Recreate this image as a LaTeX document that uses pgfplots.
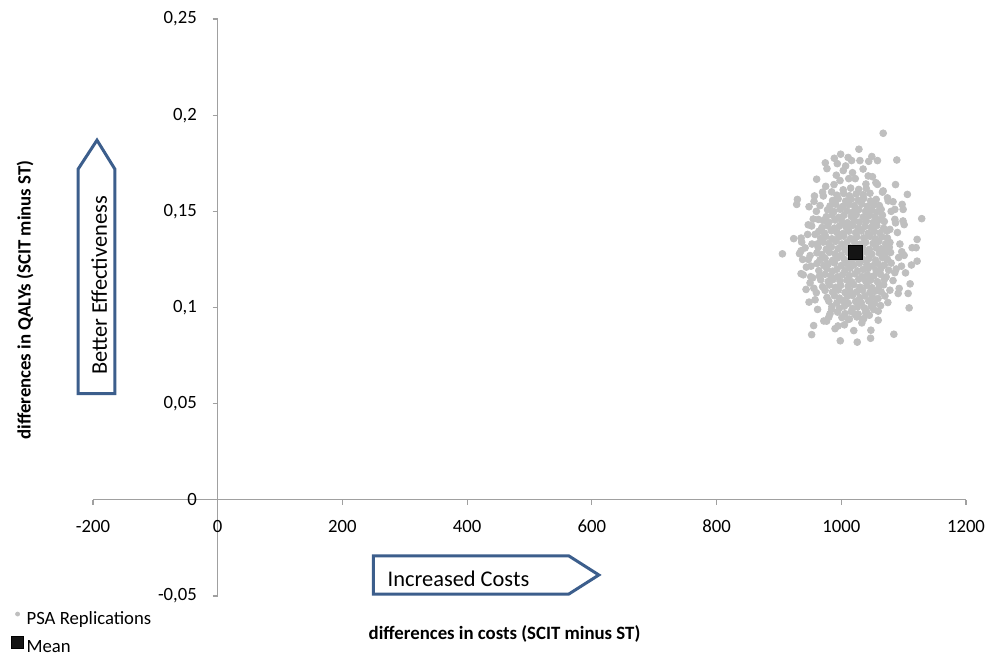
\documentclass[border=0pt]{standalone}
\usepackage{pgfplots}
\pgfplotsset{compat=1.18}
\usepackage{fontspec}
\setmainfont{Carlito}
\definecolor{axisgray}{HTML}{A0A0A0}
\definecolor{ptgray}{HTML}{BFBFBF}
\definecolor{arrowblue}{HTML}{3C5E8C}
\definecolor{meanblack}{HTML}{141414}
\begin{document}
\begin{tikzpicture}
\useasboundingbox (0,0) rectangle (499pt,327.5pt);
\begin{axis}[
  at={(46.5pt,29.5pt)}, anchor=south west,
  scale only axis, width=436.5pt, height=288.5pt,
  xmin=-200, xmax=1200, ymin=-0.05, ymax=0.25,
  axis x line=middle, axis y line=middle,
  axis line style={-, draw=axisgray, line width=0.6pt},
  xtick={-200,0,200,400,600,800,1000,1200},
  xticklabels={-200,0,200,400,600,800,1000,1200},
  ytick={-0.05,0,0.05,0.1,0.15,0.2,0.25},
  yticklabels={{-0,05},{0},{0,05},{0,1},{0,15},{0,2},{0,25}},
  tick align=outside, major tick length=2.5pt,
  tick style={draw=axisgray, line width=0.6pt},
  hide obscured x ticks=false, hide obscured y ticks=false,
  ticklabel style={font=\fontsize{9.35}{11}\selectfont, text=black},
  xticklabel style={yshift=-4pt},
  yticklabel style={xshift=-4.4pt},
  xlabel={differences in costs (SCIT minus ST)},
  ylabel={differences in QALYs (SCIT minus ST)},
  xlabel style={at={(axis description cs:0.4714,-0.0659)}, anchor=center, font=\fontsize{9.4}{11}\selectfont\bfseries},
  ylabel style={at={(axis description cs:-0.0779,0.513)}, anchor=center, rotate=90, font=\fontsize{9.4}{11}\selectfont\bfseries},
  clip=false,
  legend style={draw=none, fill=none, at={(axis description cs:-0.0937,-0.0150)}, anchor=north west,
    inner sep=0pt, row sep=0pt, column sep=0.5pt, font=\fontsize{9.35}{11}\selectfont,
    nodes={text height=7pt, text depth=2pt, inner sep=2.5pt, inner xsep=1pt}},
  legend cell align=left,
  legend image code/.code={\draw[#1, yshift=2.5pt] plot coordinates {(0pt,0pt)};},
]
\addplot[ptgray, only marks, mark=*, mark size=1.7pt, mark options={fill=ptgray, draw=none},
  legend image post style={mark size=1pt}]
coordinates {
(1067.2,0.1906) (1028.3,0.1823) (999,0.1797) (988.8,0.1776) (974.4,0.1752) (977,0.1722)
(993.6,0.1748) (1007,0.1736) (1016.5,0.1764) (1029.9,0.1764) (1049,0.1785) (1058,0.1764)
(1089,0.1767) (960.5,0.1667) (992,0.1688) (1003.2,0.1712) (1018,0.1701) (1043.2,0.1684)
(1022.4,0.1670) (988.3,0.1639) (1039.5,0.1642) (1055.5,0.1649) (1087,0.1639) (929.6,0.1562)
(928.5,0.1536) (956.3,0.1552) (948.3,0.1524) (1106,0.1588) (1097.6,0.1536) (1099.2,0.1510)
(1129,0.1462) (1100.8,0.1431) (923.7,0.1358) (935.5,0.1361) (936.5,0.1340) (905.6,0.1279)
(935.5,0.1295) (1121.6,0.1354) (1113.6,0.1311) (1120,0.1311) (1100.8,0.1271) (1121.6,0.1241)
(1112.5,0.1221) (935.5,0.1176) (943.5,0.1094) (948.3,0.1028) (1110.4,0.1123) (1107.2,0.1073)
(1108.8,0.0998) (981.9,0.0967) (955.7,0.0906) (952.5,0.0859) (976.5,0.0929) (994.7,0.0904)
(998.4,0.0827) (1025.6,0.0820) (1047.5,0.0882) (1047,0.0840) (1059.2,0.0934) (1084.3,0.0861)
(1034.1,0.0938) (1011.2,0.0938) (1040,0.0981) (1074.7,0.1026) (1091.2,0.1073) (1092.8,0.1099)
(960,0.1077) (949.9,0.1128) (954.1,0.1154) (984.5,0.0990) (1059.2,0.0981) (1021.9,0.0964)
(1069.9,0.1302) (1073.6,0.1250) (1096.5,0.1215) (1085.9,0.1181) (963.2,0.1458) (971.2,0.1580)
(984.5,0.1601) (1067.2,0.1606) (1075.2,0.1554) (1085.9,0.1510) (1085.9,0.1458) (1077.9,0.1406)
(952.5,0.1424) (957.9,0.1380) (947.2,0.1250) (951.5,0.1215)
(942,0.131) (946,0.138) (944,0.121) (950,0.127) (938,0.125) (953,0.133) (951,0.116) (955,0.146)
(947,0.143) (956,0.110) (958,0.104) (962,0.099) (966,0.153) (960,0.150) (970,0.160) (975,0.163)
(980,0.095) (972,0.093) (990,0.089) (1005,0.091) (1020,0.088) (1033,0.092) (1045,0.096) (1052,0.099)
(1063,0.101) (1070,0.106) (1078,0.109) (1083,0.114) (1088,0.120) (1092,0.126) (1094,0.133) (1090,0.139)
(1087,0.144) (1080,0.150) (1074,0.157) (1066,0.160) (1058,0.164) (1050,0.168) (1035,0.172) (1012,0.167)
(998,0.166) (1083,0.155) (1097,0.129) (1103,0.118) (1099,0.145) (939,0.117) (933,0.128) (957,0.158)
(1044,0.176) (1011,0.178)
(961,0.1284) (969,0.1276) (981,0.1287) (990,0.1279) (1000,0.1272) (1011,0.1285) (1019,0.1281)
(1031,0.1273) (1040,0.1288) (1049,0.1277) (1061,0.1283) (1070,0.1274) (1079,0.1286)
(963,0.1312) (976,0.1303) (984,0.1315) (995,0.1306) (1006,0.1301) (1014,0.1311) (1026,0.1304)
(1034,0.1316) (1045,0.1302) (1056,0.1310) (1064,0.1305) (1077,0.1313)
(966,0.1248) (974,0.1256) (986,0.1245) (994,0.1258) (1005,0.1250) (1016,0.1243) (1024,0.1257)
(1036,0.1249) (1044,0.1254) (1055,0.1246) (1066,0.1259) (1074,0.1250)
(962,0.1331) (971,0.1340) (980,0.1333) (991,0.1344) (1001,0.1330) (1009,0.1338) (1021,0.1342)
(1030,0.1329) (1039,0.1339) (1051,0.1333) (1060,0.1343) (1071,0.1331) (1078,0.1338)
(961,0.1229) (972,0.1219) (979,0.1226) (989,0.1232) (1000,0.1218) (1010,0.1227) (1020,0.1221)
(1029,0.1230) (1041,0.1223) (1050,0.1216) (1059,0.1228) (1069,0.1220) (1080,0.1231)
(967,0.1360) (975,0.1369) (985,0.1357) (996,0.1366) (1004,0.1371) (1015,0.1359) (1025,0.1368)
(1036,0.1362) (1046,0.1370) (1054,0.1358) (1065,0.1367) (1074,0.1361)
(964,0.1192) (977,0.1201) (986,0.1189) (993,0.1199) (1006,0.1193) (1014,0.1204) (1026,0.1190)
(1035,0.1198) (1043,0.1203) (1056,0.1191) (1063,0.1200) (1076,0.1194)
(964,0.1396) (973,0.1387) (984,0.1399) (993,0.1390) (1003,0.1385) (1012,0.1397) (1023,0.1389)
(1032,0.1398) (1043,0.1386) (1053,0.1395) (1062,0.1388) (1073,0.1397)
(965,0.1163) (974,0.1173) (983,0.1165) (994,0.1160) (1002,0.1171) (1013,0.1166) (1022,0.1175)
(1033,0.1161) (1042,0.1170) (1052,0.1164) (1063,0.1172) (1072,0.1159)
(969,0.1416) (978,0.1425) (989,0.1413) (997,0.1423) (1008,0.1418) (1018,0.1427) (1027,0.1414)
(1038,0.1422) (1048,0.1417) (1057,0.1426) (1068,0.1412)
(967,0.1144) (979,0.1135) (987,0.1146) (998,0.1137) (1009,0.1143) (1017,0.1133) (1028,0.1147)
(1039,0.1138) (1047,0.1142) (1058,0.1134) (1069,0.1145)
(971,0.1452) (980,0.1443) (990,0.1455) (1001,0.1446) (1010,0.1441) (1021,0.1453) (1029,0.1444)
(1040,0.1450) (1051,0.1442) (1060,0.1454) (1069,0.1447)
(970,0.1108) (981,0.1117) (991,0.1105) (999,0.1115) (1011,0.1110) (1020,0.1119) (1030,0.1106)
(1041,0.1114) (1049,0.1103) (1061,0.1112) (1068,0.1118)
(976,0.1472) (985,0.1481) (996,0.1469) (1004,0.1479) (1016,0.1474) (1024,0.1483) (1035,0.1470)
(1045,0.1478) (1054,0.1473) (1066,0.1480)
(974,0.1089) (986,0.1080) (995,0.1091) (1006,0.1078) (1014,0.1087) (1025,0.1082) (1034,0.1090)
(1046,0.1079) (1055,0.1086) (1064,0.1081)
(978,0.1508) (988,0.1499) (998,0.1511) (1009,0.1502) (1019,0.1497) (1028,0.1509) (1039,0.1500)
(1049,0.1506) (1058,0.1498) (1064,0.1510)
(977,0.1052) (989,0.1061) (997,0.1049) (1010,0.1058) (1018,0.1063) (1030,0.1051) (1038,0.1060)
(1050,0.1054) (1059,0.1047)
(982,0.1528) (991,0.1537) (1002,0.1525) (1012,0.1535) (1021,0.1529) (1033,0.1538) (1042,0.1526)
(1052,0.1534) (1061,0.1530)
(980,0.1033) (993,0.1024) (1003,0.1035) (1011,0.1022) (1023,0.1031) (1032,0.1025) (1044,0.1034)
(1053,0.1021)
(986,0.1556) (995,0.1565) (1007,0.1553) (1016,0.1563) (1027,0.1558) (1036,0.1567) (1047,0.1554)
(1056,0.1562)
(985,0.1005) (997,0.0996) (1005,0.1007) (1018,0.0994) (1026,0.1003) (1037,0.0998) (1048,0.1006)
(993,0.1584) (1004,0.1593) (1013,0.1581) (1024,0.1591) (1035,0.1586) (1046,0.1594)
(994,0.0976) (1006,0.0968) (1016,0.0979) (1027,0.0966) (1039,0.0974)
(1003,0.1612) (1015,0.1621) (1028,0.1614) (1040,0.1619)
(1001,0.0948) (1013,0.0940) (1025,0.0951) (1036,0.0942)
};
\addlegendentry{PSA Replications}
\addplot[meanblack, only marks, mark=square*, mark size=3.5pt, mark options={fill=meanblack, draw=black, line width=0.4pt},
  legend image post style={mark size=3pt}]
coordinates {(1022,0.1286)};
\addlegendentry{Mean}
% annotation arrows
\draw[arrowblue, line width=1.5pt, fill=white, line join=miter]
  (axis cs:-224,0.0552) -- (axis cs:-224,0.1719) -- (axis cs:-193.6,0.1870)
  -- (axis cs:-164.8,0.1719) -- (axis cs:-164.8,0.0552) -- cycle;
\node[rotate=90, anchor=base, inner sep=0pt, font=\fontsize{11.2}{13}\selectfont]
  at (axis cs:-177.6,0.1115) {Better Effectiveness};
\draw[arrowblue, line width=1.5pt, fill=white, line join=miter]
  (axis cs:249.6,-0.02917) -- (axis cs:563.2,-0.02917) -- (axis cs:611.2,-0.03906)
  -- (axis cs:563.2,-0.04896) -- (axis cs:249.6,-0.04896) -- cycle;
\node[anchor=base west, inner sep=0pt, font=\fontsize{11.2}{13}\selectfont]
  at (axis cs:272,-0.04531) {Increased Costs};
\end{axis}
\end{tikzpicture}
\end{document}
